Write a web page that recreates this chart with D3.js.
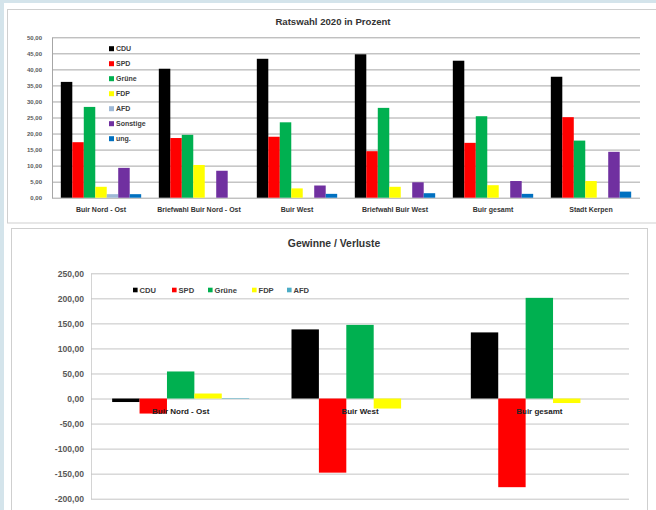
<!DOCTYPE html>
<html>
<head>
<meta charset="utf-8">
<script src="https://cdn.jsdelivr.net/npm/d3@7"></script>
<style>
body { margin: 0; background: #d4e4eb; }
svg { display: block; }
</style>
</head>
<body>
<script>
var w = 656;
var h = 510;

// --- data: Ratswahl 2020 in Prozent
var parties = ["CDU", "SPD", "Grüne", "FDP", "AFD", "Sonstige", "ung."];
var partyColors = ["#000000", "#ff0000", "#00b050", "#ffff00", "#9db8d6", "#7030a0", "#0070c0"];
var areas = ["Buir Nord - Ost", "Briefwahl Buir Nord - Ost", "Buir West", "Briefwahl Buir West", "Buir gesamt", "Stadt Kerpen"];
var cdu      = [36.1, 40.2, 43.3, 44.7, 42.7, 37.7];
var spd      = [17.3, 18.6, 19.0, 14.5, 17.1, 25.1];
var gruene   = [28.3, 19.6, 23.5, 28.0, 25.4, 17.8];
var fdp      = [3.4, 10.2, 2.9, 3.4, 3.9, 5.2];
var afd      = [1.1, 0, 0, 0, 0, 0];
var sonstige = [9.3, 8.4, 3.8, 4.8, 5.2, 14.3];
var ung      = [1.1, 0, 1.2, 1.4, 1.2, 1.9];
var pctTicks = [0, 5, 10, 15, 20, 25, 30, 35, 40, 45, 50];

// --- data: Gewinne / Verluste
var diffParties = ["CDU", "SPD", "Grüne", "FDP", "AFD"];
var diffColors = ["#000000", "#ff0000", "#00b050", "#ffff00", "#4bacc6"];
var diffAreas = ["Buir Nord - Ost", "Buir West", "Buir gesamt"];
var dCdu    = [-7, 138, 132];
var dSpd    = [-30, -148, -177];
var dGruene = [54, 147, 201];
var dFdp    = [10, -20, -9];
var dAfd    = [1, 0, 0];
var diffTicks = [-200, -150, -100, -50, 0, 50, 100, 150, 200, 250];

d3.formatDefaultLocale({decimal: ",", thousands: ".", grouping: [3], currency: ["", " €"], minus: "-"});
var fmt = d3.format(".2f");
var font = "'Liberation Sans', Arial, sans-serif";

var svg = d3.select("body").append("svg")
    .attr("width", w)
    .attr("height", h)
    .style("font-family", font);

// panels
svg.append("rect").attr("x", 4).attr("y", 3).attr("width", w).attr("height", h)
    .attr("fill", "#ffffff");
svg.append("rect").attr("x", 7.5).attr("y", 9.5).attr("width", 700).attr("height", 213.5)
    .attr("fill", "#ffffff").attr("stroke", "#cfcfcf");
svg.append("rect").attr("x", 11.5).attr("y", 228.5).attr("width", 636).attr("height", 300)
    .attr("fill", "#ffffff").attr("stroke", "#cfcfcf");

// ================= top chart
var top1 = {left: 52, right: 640, top: 37.3, bottom: 197.7};
var rows1 = areas.map(function(a, i) {
  return [cdu[i], spd[i], gruene[i], fdp[i], afd[i], sonstige[i], ung[i]];
});

var x0 = d3.scaleBand().domain(areas).range([top1.left, top1.right])
    .paddingInner(0.18).paddingOuter(0.09);
var x1 = d3.scaleBand().domain(parties).range([0, x0.bandwidth()]);
var y1 = d3.scaleLinear().domain([0, 50]).range([top1.bottom, top1.top]);

var gy1 = svg.append("g").attr("transform", "translate(" + top1.left + ",0)")
    .call(d3.axisLeft(y1).tickValues(pctTicks).tickFormat(fmt)
      .tickSize(-(top1.right - top1.left)).tickSizeOuter(0).tickPadding(10));
gy1.selectAll(".tick line").attr("stroke", "#a6a6a6");
gy1.select(".domain").attr("stroke", "#a6a6a6");
gy1.selectAll("text").attr("fill", "#595959").style("font-size", "6px")
    .style("font-weight", "bold").style("font-family", font);

var groups1 = svg.append("g").selectAll("g").data(rows1).join("g")
    .attr("transform", function(d, i) { return "translate(" + x0(areas[i]) + ",0)"; });
groups1.selectAll("rect").data(function(d) { return d; }).join("rect")
    .attr("x", function(d, j) { return x1(parties[j]); })
    .attr("width", x1.bandwidth())
    .attr("y", function(d) { return y1(d); })
    .attr("height", function(d) { return y1(0) - y1(d); })
    .attr("fill", function(d, j) { return partyColors[j]; });

var gx1 = svg.append("g").attr("transform", "translate(0," + top1.bottom + ")")
    .call(d3.axisBottom(x0).tickSize(0).tickPadding(9.6));
gx1.select(".domain").remove();
gx1.selectAll("text").attr("fill", "#333333").style("font-size", "7px")
    .style("font-weight", "bold").style("font-family", font);

svg.append("text").attr("x", 333).attr("y", 25).attr("text-anchor", "middle")
    .style("font-size", "9.6px").style("font-weight", "bold").attr("fill", "#333333")
    .text("Ratswahl 2020 in Prozent");

var leg1 = svg.append("g").selectAll("g").data(parties).join("g")
    .attr("transform", function(d, i) { return "translate(109," + (48.7 + i * 15) + ")"; });
leg1.append("rect").attr("x", 0).attr("y", -2.5).attr("width", 5).attr("height", 5)
    .attr("fill", function(d, i) { return partyColors[i]; });
leg1.append("text").attr("x", 7).attr("y", 2.4).style("font-size", "7px")
    .style("font-weight", "bold").attr("fill", "#404040")
    .text(function(d) { return d; });

// ================= bottom chart
var b2 = {left: 91, right: 629, top: 273.3, bottom: 498.7};
var rows2 = diffAreas.map(function(a, i) {
  return [dCdu[i], dSpd[i], dGruene[i], dFdp[i], dAfd[i]];
});

var x2 = d3.scaleBand().domain(diffAreas).range([b2.left, b2.right])
    .paddingInner(0.236).paddingOuter(0.118);
var x3 = d3.scaleBand().domain(diffParties).range([0, x2.bandwidth()]);
var y2 = d3.scaleLinear().domain([-200, 250]).range([b2.bottom, b2.top]);

var gy2 = svg.append("g").attr("transform", "translate(" + b2.left + ",0)")
    .call(d3.axisLeft(y2).tickValues(diffTicks).tickFormat(fmt)
      .tickSize(-(b2.right - b2.left)).tickSizeOuter(0).tickPadding(7));
gy2.selectAll(".tick line").attr("stroke", "#c4c4c4");
gy2.select(".domain").attr("stroke", "#d4d4d4");
gy2.selectAll("text").attr("fill", "#595959").style("font-size", "8.6px")
    .style("font-weight", "bold").style("font-family", font);

var groups2 = svg.append("g").selectAll("g").data(rows2).join("g")
    .attr("transform", function(d, i) { return "translate(" + x2(diffAreas[i]) + ",0)"; });
groups2.selectAll("rect").data(function(d) { return d; }).join("rect")
    .attr("x", function(d, j) { return x3(diffParties[j]); })
    .attr("width", x3.bandwidth())
    .attr("y", function(d) { return y2(Math.max(d, 0)); })
    .attr("height", function(d) { return Math.abs(y2(d) - y2(0)); })
    .attr("fill", function(d, j) { return diffColors[j]; });

var gx2 = svg.append("g").attr("transform", "translate(0," + y2(0) + ")")
    .call(d3.axisBottom(x2).tickSize(0).tickPadding(9.4));
gx2.select(".domain").remove();
gx2.selectAll("text").attr("fill", "#222222").style("font-size", "8px")
    .style("font-weight", "bold").style("font-family", font);

svg.append("text").attr("x", 334).attr("y", 247).attr("text-anchor", "middle")
    .style("font-size", "10.4px").style("font-weight", "bold").attr("fill", "#333333")
    .text("Gewinne / Verluste");

var legX = [133, 172, 208, 252, 287];
var leg2 = svg.append("g").selectAll("g").data(diffParties).join("g")
    .attr("transform", function(d, i) { return "translate(" + legX[i] + ",290)"; });
leg2.append("rect").attr("x", 0).attr("y", -2.3).attr("width", 4.6).attr("height", 4.6)
    .attr("fill", function(d, i) { return diffColors[i]; });
leg2.append("text").attr("x", 6.5).attr("y", 2.8).style("font-size", "7.6px")
    .style("font-weight", "bold").attr("fill", "#404040")
    .text(function(d) { return d; });
</script>
</body>
</html>
